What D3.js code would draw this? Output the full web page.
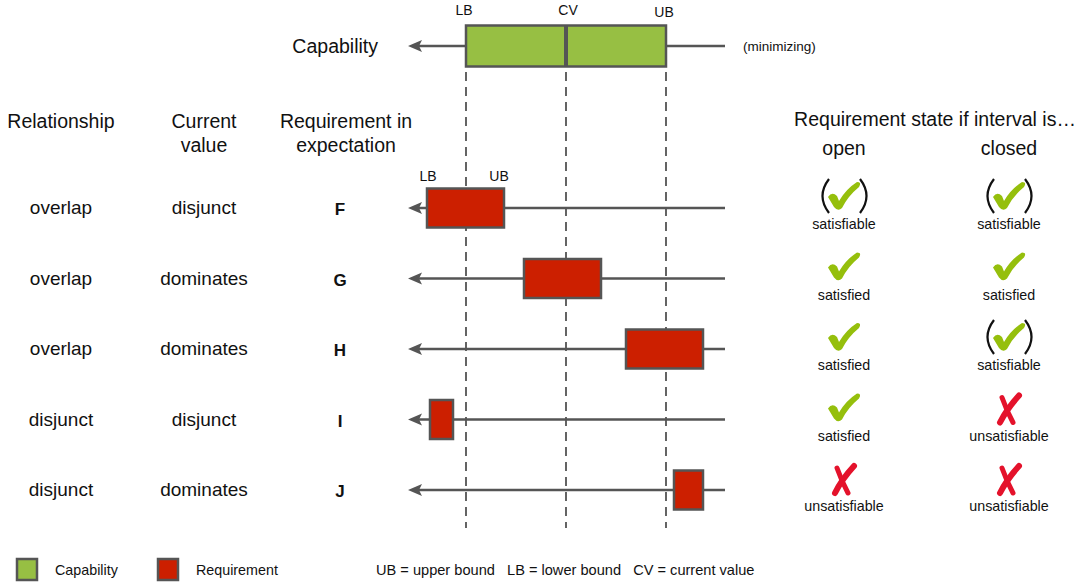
<!DOCTYPE html>
<html><head><meta charset="utf-8">
<script src="https://cdn.jsdelivr.net/npm/d3@7"></script>
<style>
body{margin:0;background:#fff;}
text{font-family:"Liberation Sans",Arial,Helvetica,sans-serif;fill:#111;}
</style></head>
<body>
<svg id="chart" width="1082" height="585"></svg>
<script>
// ---- data ----
const capability = {lb: 2.0, cv: 3.0, ub: 4.0};
const requirements = ["F", "G", "H", "I", "J"];
const relationship = ["overlap", "overlap", "overlap", "disjunct", "disjunct"];
const currentValue = ["disjunct", "dominates", "dominates", "disjunct", "dominates"];
const reqLB = [1.61, 2.58, 3.60, 1.64, 4.08];
const reqUB = [2.38, 3.35, 4.37, 1.87, 4.37];
const openState = ["satisfiable", "satisfied", "satisfied", "satisfied", "unsatisfiable"];
const closedState = ["satisfiable", "satisfied", "satisfiable", "unsatisfiable", "unsatisfiable"];
const axisDomain = [1.42, 4.59];
const boundLabels = ["LB", "CV", "UB"];
const legendItems = ["Capability", "Requirement"];
const legendNote = "UB = upper bound   LB = lower bound   CV = current value";

const GREEN = "#97bf43", RED = "#cc1f00", STROKE = "#555", CHECK = "#95bf0c", CROSS = "#e4122b";
const HF = 19.5, RF = 19, SF = 14.3;

const svg = d3.select("#chart");
const x = d3.scaleLinear().domain(axisDomain).range([408, 725]);
const y = d3.scalePoint().domain(requirements).range([208, 490]);
const states = ["open", "closed"];
const colX = d3.scalePoint().domain(states).range([844, 1009]);

function axisLine(g, yy) {
  g.append("line").attr("x1", x(axisDomain[0]) + 8).attr("x2", x(axisDomain[1]))
    .attr("y1", yy).attr("y2", yy).attr("stroke", STROKE).attr("stroke-width", 2.5);
  const tx = x(axisDomain[0]);
  g.append("path").attr("d", `M${tx},${yy} L${tx+14},${yy-6} L${tx+11},${yy} L${tx+14},${yy+6} Z`)
    .attr("fill", STROKE);
}

// ---- capability ----
const capY = 46;
const cap = svg.append("g");
axisLine(cap, capY);
cap.append("rect").attr("x", x(capability.lb)).attr("width", x(capability.ub) - x(capability.lb))
  .attr("y", capY - 20.5).attr("height", 41).attr("fill", GREEN).attr("stroke", STROKE).attr("stroke-width", 2.5);
cap.append("line").attr("x1", x(capability.cv)).attr("x2", x(capability.cv))
  .attr("y1", capY - 20.5).attr("y2", capY + 20.5).attr("stroke", STROKE).attr("stroke-width", 4);
cap.append("text").attr("x", 378).attr("y", capY + 7).attr("text-anchor", "end").attr("font-size", HF).text("Capability");
cap.append("text").attr("x", 743).attr("y", capY + 5).attr("font-size", 13.5).text("(minimizing)");
const bvals = [capability.lb, capability.cv, capability.ub];
cap.selectAll(".bl").data(boundLabels).join("text")
  .attr("x", (d, i) => x(bvals[i]) + [-2, 2, -2][i]).attr("y", (d, i) => i === 2 ? 17 : 15)
  .attr("text-anchor", "middle").attr("font-size", 14).text(d => d);

// dashed guides
svg.selectAll(".guide").data(bvals).join("line")
  .attr("x1", d => x(d)).attr("x2", d => x(d)).attr("y1", 72).attr("y2", 528)
  .attr("stroke", "#111").attr("stroke-width", 1.3).attr("stroke-dasharray", "9,6");

// headers
function multiline(tx, ty, lines, size) {
  const t = svg.append("text").attr("x", tx).attr("y", ty).attr("font-size", size).attr("text-anchor", "middle");
  lines.forEach((l, i) => t.append("tspan").attr("x", tx).attr("dy", i ? 24 : 0).text(l));
}
multiline(61, 128, ["Relationship"], HF);
multiline(204, 128, ["Current", "value"], HF);
multiline(346, 128, ["Requirement in", "expectation"], HF);
multiline(935, 126, ["Requirement state if interval is…"], HF);
svg.selectAll(".colh").data(states).join("text")
  .attr("x", d => colX(d)).attr("y", 155).attr("text-anchor", "middle").attr("font-size", HF).text(d => d);

// rows
const rows = svg.append("g");
requirements.forEach((r, i) => {
  const yy = y(r);
  const g = rows.append("g");
  axisLine(g, yy);
  g.append("rect").attr("x", x(reqLB[i])).attr("width", x(reqUB[i]) - x(reqLB[i]))
    .attr("y", yy - 19.5).attr("height", 39).attr("fill", RED).attr("stroke", STROKE).attr("stroke-width", 2.5);
  g.append("text").attr("x", 61).attr("y", yy + 6).attr("text-anchor", "middle").attr("font-size", RF).text(relationship[i]);
  g.append("text").attr("x", 204).attr("y", yy + 6).attr("text-anchor", "middle").attr("font-size", RF).text(currentValue[i]);
  g.append("text").attr("x", 340).attr("y", yy + 7).attr("text-anchor", "middle").attr("font-size", 17)
    .attr("font-weight", "bold").text(r);
  if (i === 0) {
    g.append("text").attr("x", x(reqLB[i]) + 1).attr("y", yy - 27).attr("text-anchor", "middle").attr("font-size", 14).text("LB");
    g.append("text").attr("x", x(reqUB[i]) - 5).attr("y", yy - 27).attr("text-anchor", "middle").attr("font-size", 14).text("UB");
  }
  [openState[i], closedState[i]].forEach((s, j) => drawState(colX(states[j]), yy, s));
});

function drawCheck(g, cx, cy) {
  const p = `M${cx-16},${cy+1} Q${cx-12},${cy-5} ${cx-7},${cy} L${cx-5},${cy+5}
    Q${cx+2},${cy-7} ${cx+13},${cy-14} Q${cx+18},${cy-14} ${cx+15},${cy-9}
    Q${cx+4},${cy} ${cx-2},${cy+12} Q${cx-6},${cy+16} ${cx-10},${cy+11} Z`;
  g.append("path").attr("d", p).attr("fill", CHECK);
}
function drawCross(g, cx, cy) {
  g.append("path").attr("d", `M${cx-7},${cy-12} Q${cx-2},${cy+2} ${cx+4},${cy+13}`)
    .attr("fill", "none").attr("stroke", CROSS).attr("stroke-width", 5).attr("stroke-linecap", "round");
  g.append("path").attr("d", `M${cx+10},${cy-14} Q${cx-2},${cy-1} ${cx-9},${cy+13}`)
    .attr("fill", "none").attr("stroke", CROSS).attr("stroke-width", 6).attr("stroke-linecap", "round");
}
function drawParens(g, cx, cy) {
  g.append("path").attr("d", `M${cx-15},${cy-17} Q${cx-28},${cy} ${cx-15},${cy+17}`)
    .attr("fill", "none").attr("stroke", "#111").attr("stroke-width", 2.2);
  g.append("path").attr("d", `M${cx+16},${cy-17} Q${cx+29},${cy} ${cx+16},${cy+17}`)
    .attr("fill", "none").attr("stroke", "#111").attr("stroke-width", 2.2);
}
function drawState(cx, yy, s) {
  const g = svg.append("g");
  const iy = yy - 12;
  if (s === "unsatisfiable") drawCross(g, cx, iy + 2);
  else drawCheck(g, cx, iy);
  if (s === "satisfiable") drawParens(g, cx, iy);
  g.append("text").attr("x", cx).attr("y", yy + 21).attr("text-anchor", "middle").attr("font-size", SF).text(s);
}

// legend
const lg = svg.append("g");
lg.selectAll("rect").data(legendItems).join("rect")
  .attr("x", (d, i) => 17 + i * 141).attr("y", 559).attr("width", 20).attr("height", 21)
  .attr("fill", (d, i) => i ? RED : GREEN).attr("stroke", STROKE).attr("stroke-width", 2.5);
lg.selectAll("text.li").data(legendItems).join("text").attr("class", "li")
  .attr("x", (d, i) => 55 + i * 141).attr("y", 575).attr("font-size", SF).text(d => d);
lg.append("text").attr("x", 376).attr("y", 575).attr("font-size", 14.6)
  .style("white-space", "pre").text(legendNote);
</script>
</body></html>
